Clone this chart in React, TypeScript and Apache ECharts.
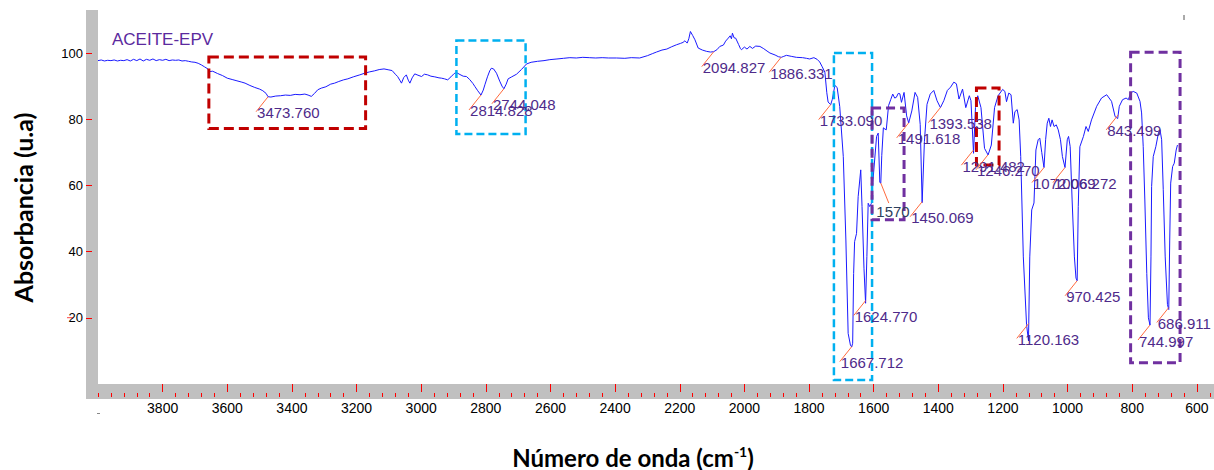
import { useEffect, useRef } from "react";
import * as echarts from "echarts";

// ---------- spectrum (wavenumber cm-1, absorbance u.a) ----------
const spectrumHigh: [number, number][] = [
  [4000, 97.7], [3990, 97.9], [3980, 97.6], [3970, 97.8], [3960, 97.7], [3950, 97.9], [3940, 97.6],
  [3930, 97.8], [3920, 97.7], [3910, 98.0], [3900, 97.6], [3890, 98.1], [3880, 97.7], [3870, 98.2],
  [3860, 97.6], [3850, 98.1], [3840, 97.8], [3830, 98.2], [3820, 97.7], [3810, 98.0], [3800, 97.8],
  [3790, 98.1], [3780, 97.7], [3770, 97.9], [3760, 97.8], [3750, 97.9], [3740, 97.6], [3730, 97.7],
  [3720, 97.5], [3710, 97.3], [3700, 97.2], [3690, 96.9], [3680, 96.4], [3670, 95.8], [3660, 95.2],
  [3655, 94.4], [3645, 94.5], [3630, 93.8], [3615, 93.2], [3600, 92.4], [3585, 92.0], [3570, 91.6],
  [3555, 91.2], [3545, 90.9], [3530, 90.2], [3515, 89.6], [3500, 89.1], [3490, 88.6], [3480, 87.8],
  [3474, 86.8], [3465, 86.7], [3450, 87.0], [3435, 87.1], [3420, 87.3], [3405, 87.2], [3390, 87.5],
  [3375, 87.4], [3360, 87.6], [3350, 87.3], [3340, 86.9], [3330, 87.8], [3320, 88.9], [3309, 89.4],
  [3295, 89.8], [3280, 90.6], [3268, 90.9], [3255, 91.4], [3240, 91.9], [3227, 92.2], [3210, 92.8],
  [3190, 93.4], [3175, 93.9], [3160, 94.3], [3145, 94.6], [3130, 95.0], [3115, 95.2], [3100, 94.9],
  [3090, 94.7], [3080, 93.6], [3073, 92.9], [3065, 91.6], [3061, 90.9], [3054, 92.6], [3046, 93.4],
  [3040, 91.8], [3035, 90.9], [3028, 92.5], [3020, 93.7], [3010, 93.3], [2999, 92.9], [2990, 93.6],
  [2980, 93.4], [2970, 93.0], [2958, 92.8], [2945, 92.5], [2937, 92.4], [2928, 92.2], [2918, 91.9],
  [2908, 92.8], [2898, 93.8], [2891, 94.1], [2880, 93.5], [2870, 93.0], [2860, 92.9], [2850, 92.0],
  [2840, 90.8], [2834, 89.9], [2825, 88.6], [2815, 87.3], [2808, 88.8], [2803, 90.4], [2795, 92.8],
  [2788, 94.6], [2783, 95.4], [2776, 95.2], [2767, 93.9], [2757, 91.5], [2750, 90.0], [2744, 89.2],
  [2737, 90.6], [2731, 92.2], [2720, 92.8], [2705, 93.6], [2690, 95.0], [2674, 96.7], [2660, 97.2],
  [2640, 97.5], [2620, 97.7],
];

const spectrumMid: [number, number][] = [
  [2602, 98.0], [2580, 98.2], [2560, 98.4], [2540, 98.6], [2520, 98.5], [2500, 98.7], [2480, 98.6],
  [2460, 98.5], [2440, 98.6], [2420, 98.5], [2396, 98.5], [2370, 98.4], [2350, 98.6], [2324, 98.5],
  [2300, 99.2], [2285, 99.8], [2272, 100.3], [2255, 100.9], [2240, 101.2], [2225, 101.9], [2210, 102.5],
  [2198, 102.9], [2190, 103.2], [2184, 103.7], [2177, 103.0], [2172, 104.3], [2167, 106.5], [2160, 105.3],
  [2153, 104.0], [2143, 101.5], [2130, 100.9], [2117, 100.5], [2105, 100.3], [2095, 100.4], [2085, 101.0],
  [2076, 102.0], [2065, 102.4], [2058, 103.6], [2050, 104.5], [2044, 105.2], [2040, 104.3], [2037, 106.0],
  [2032, 104.6], [2027, 104.5], [2018, 102.6], [2012, 101.3], [2009, 101.0], [2000, 101.8], [1992, 101.2],
  [1983, 102.0], [1975, 101.4], [1965, 102.1], [1952, 102.0], [1940, 101.3], [1930, 100.6], [1921, 100.0],
  [1905, 99.4], [1895, 98.9], [1886, 98.7], [1878, 99.0], [1870, 99.3], [1855, 99.0], [1839, 98.7],
  [1820, 98.6], [1808, 98.4], [1798, 98.2], [1785, 98.6], [1775, 98.1], [1767, 97.3],
];

const spectrumFingerprint: [number, number][] = [
  [1760, 96.0], [1751, 94.2], [1745, 88.0], [1741, 85.2], [1733, 84.4], [1728, 86.0], [1720, 90.2],
  [1713, 89.6], [1705, 83.8], [1694, 68.7], [1686, 43.5], [1679, 15.3], [1672, 11.8], [1668, 11.2],
  [1665, 12.3], [1662, 33.4], [1659, 43.0], [1653, 45.5], [1648, 56.6], [1640, 64.7], [1636, 53.6],
  [1630, 35.0], [1625, 24.4], [1621, 38.5], [1617, 54.6], [1612, 53.6], [1607, 54.6], [1602, 61.7],
  [1591, 74.8], [1586, 75.8], [1581, 60.9], [1578, 60.7], [1575, 69.0], [1570, 77.4], [1565, 77.0],
  [1561, 76.8], [1554, 84.1], [1547, 86.0], [1541, 87.6], [1535, 86.4], [1530, 86.6], [1524, 87.8],
  [1519, 87.7], [1514, 85.1], [1506, 88.1], [1498, 81.0], [1491.6, 78.9], [1482, 82.5], [1472, 88.1],
  [1464, 86.6], [1456, 78.4], [1450, 54.8], [1443, 73.3], [1435, 84.5], [1425, 87.6], [1414, 88.7],
  [1404, 85.6], [1393.5, 83.5], [1383, 85.6], [1372, 88.7], [1362, 89.7], [1352, 91.2], [1344, 90.7],
  [1336, 86.1], [1325, 89.1], [1315, 83.5], [1304, 87.1], [1299, 85.6], [1291, 69.7], [1285, 83.5],
  [1278, 87.1], [1268, 83.5], [1257, 71.2], [1246, 69.2], [1236, 72.2], [1226, 83.5], [1215, 87.1],
  [1201, 89.0], [1194, 88.4], [1189, 85.3], [1182, 87.9], [1175, 87.4], [1168, 78.8], [1163, 82.3],
  [1156, 82.9], [1150, 79.8], [1145, 68.7], [1137, 38.4], [1127, 18.0], [1121, 13.0], [1117, 38.4],
  [1111, 52.6], [1104, 54.7], [1098, 70.7], [1091, 73.8], [1086, 74.3], [1080, 70.0], [1073, 65.4],
  [1068, 73.8], [1063, 78.8], [1058, 80.3], [1053, 77.8], [1048, 79.8], [1042, 77.8], [1035, 78.3],
  [1029, 76.8], [1022, 73.8], [1016, 68.7], [1008, 65.4], [1001, 73.8], [997, 74.8], [992, 71.7],
  [986, 55.6], [979, 38.4], [974, 32.0], [970.4, 31.2], [967, 53.6], [962, 71.7], [951, 74.8],
  [943, 77.8], [936, 76.3], [926, 79.8], [910, 83.9], [895, 86.4], [879, 87.4], [864, 85.4],
  [853, 80.8], [845, 80.2], [840, 83.9], [830, 85.9], [819, 86.4], [812, 85.9], [805, 87.9],
  [797, 88.4], [786, 87.9], [776, 85.4], [771, 81.9], [766, 71.7], [761, 55.6], [755, 33.4],
  [750, 20.0], [745, 17.8], [742, 38.4], [740, 59.7], [735, 68.7], [727, 71.7], [719, 75.8],
  [714, 76.8], [709, 73.8], [704, 58.7], [698, 38.4], [691, 24.0], [687, 22.5], [684, 43.5],
  [681, 60.7], [675, 65.7], [670, 66.7], [664, 70.7], [660, 72.2],
];

const spectrum: [number, number][] = [...spectrumHigh, ...spectrumMid, ...spectrumFingerprint];

// ---------- peak annotations ----------
const peakWavenumbers = [
  3473.76, 2814.828, 2744.048, 2094.827, 1886.331, 1733.09, 1667.712, 1624.77, 1578, 1491.618,
  1450.069, 1393.538, 1291.482, 1246.27, 1120.163, 1073, 1008, 970.425, 843.499, 744.997, 686.911,
];
const peakLabels = [
  "3473.760", "2814.828", "2744.048", "2094.827", "1886.331", "1733.090", "1667.712", "1624.770",
  "1570", "1491.618", "1450.069", "1393.538", "1291.482", "1246.270", "1120.163", "1072.069",
  "1006.272", "970.425", "843.499", "744.997", "686.911",
];

// ---------- highlighted regions (wavenumber range, absorbance range) ----------
const redBoxes = [
  [3657, 3172, 77.2, 98.8],
  [1282, 1212, 66.2, 89.4],
];
const cyanBoxes = [
  [2891, 2677, 75.5, 103.8],
  [1723, 1605, 1.2, 100.0],
];
const purpleBoxes = [
  [1605, 1506, 49.6, 83.4],
  [805, 652, 6.4, 100.2],
];

// ---------- axis ticks ----------
const xTickLabels = [3800, 3600, 3400, 3200, 3000, 2800, 2600, 2400, 2200, 2000, 1800, 1600, 1400, 1200, 1000, 800, 600];
const xMinorTicks: number[] = [];
for (let w = 4000; w >= 560; w -= 40) if (w % 200 !== 0 || w === 4000) xMinorTicks.push(w);
const yTickLabels = [20, 40, 60, 80, 100];

const X_MIN = 547;
const X_MAX = 4000;
const Y_MAX = 113;

function valueAt(w: number): number {
  for (let i = 0; i < spectrum.length - 1; i++) {
    const [w1, v1] = spectrum[i];
    const [w2, v2] = spectrum[i + 1];
    if (w <= w1 && w >= w2) {
      const t = w1 === w2 ? 0 : (w1 - w) / (w1 - w2);
      return v1 + (v2 - v1) * t;
    }
  }
  return spectrum[spectrum.length - 1][1];
}

const LABEL_FONT = '15px "Liberation Sans", Arial, sans-serif';

export default function App() {
  const ref = useRef<HTMLDivElement>(null);

  useEffect(() => {
    if (!ref.current) return;
    const chart = echarts.init(ref.current, undefined, { renderer: "svg" });

    const boxItem = (b: number[], color: string, width: number, dash: number[]) => [
      {
        coord: [b[0], b[3]],
        itemStyle: { color: "rgba(0,0,0,0)", borderColor: color, borderWidth: width, borderType: dash },
      },
      { coord: [b[1], b[2]] },
    ];

    const option: any = {
      animation: false,
      backgroundColor: "#ffffff",
      grid: { left: 98, right: 0, top: 10, bottom: 86 },
      xAxis: [
        {
          type: "value",
          min: X_MIN,
          max: X_MAX,
          inverse: true,
          position: "bottom",
          offset: 5,
          z: 5,
          axisLine: { show: false },
          axisTick: {
            show: true,
            length: 8,
            customValues: xTickLabels,
            lineStyle: { color: "#ff0000", width: 1 },
          },
          axisLabel: {
            customValues: xTickLabels,
            formatter: (v: number) => String(v),
            fontSize: 14,
            color: "#000",
            margin: 12,
            fontFamily: '"Liberation Sans", Arial, sans-serif',
          },
          splitLine: { show: false },
        },
        {
          type: "value",
          min: X_MIN,
          max: X_MAX,
          inverse: true,
          position: "bottom",
          offset: 9,
          z: 5,
          axisLine: { show: false },
          axisTick: {
            show: true,
            length: 4,
            customValues: xMinorTicks,
            lineStyle: { color: "#ff0000", width: 1 },
          },
          axisLabel: { show: false },
          splitLine: { show: false },
        },
      ],
      yAxis: {
        type: "value",
        min: 0,
        max: Y_MAX,
        offset: 6,
        z: 5,
        axisLine: { show: false },
        axisTick: {
          show: true,
          length: 6,
          customValues: yTickLabels,
          lineStyle: { color: "#ff0000", width: 1 },
        },
        axisLabel: {
          customValues: yTickLabels,
          formatter: (v: number) => String(v),
          fontSize: 13,
          color: "#000",
          margin: 9,
          fontFamily: '"Liberation Sans", Arial, sans-serif',
        },
        splitLine: { show: false },
      },
      graphic: {
        elements: [
          { type: "rect", z: 0, shape: { x: 86, y: 10, width: 12, height: 389 }, style: { fill: "#c0c0c0" } },
          { type: "rect", z: 0, shape: { x: 86, y: 384, width: 1128, height: 15 }, style: { fill: "#c0c0c0" } },
          {
            type: "line",
            z: 1,
            shape: { x1: 67, y1: 317.7, x2: 73, y2: 317.7 },
            style: { stroke: "#ff4444", lineWidth: 1 },
          },
          {
            type: "line",
            z: 1,
            shape: { x1: 1184, y1: 15, x2: 1184, y2: 20 },
            style: { stroke: "#555", lineWidth: 1 },
          },
          {
            type: "line",
            z: 1,
            shape: { x1: 97, y1: 413.5, x2: 100, y2: 413.5 },
            style: { stroke: "#888", lineWidth: 1 },
          },
          {
            type: "text",
            z: 10,
            x: 112,
            y: 31,
            style: {
              text: "ACEITE-EPV",
              fill: "#5b2a9e",
              font: '17px "Liberation Sans", Arial, sans-serif',
            },
          },
          {
            type: "text",
            z: 10,
            x: 23,
            y: 207.5,
            rotation: Math.PI / 2,
            style: {
              text: "Absorbancia (u.a)",
              fill: "#000",
              font: 'bold 25px Lato, "Open Sans", sans-serif',
              align: "center",
              verticalAlign: "middle",
            },
          },
          {
            type: "text",
            z: 10,
            x: 633,
            y: 457,
            style: {
              text: "{a|Número de onda (cm}{s|-1}{a|)}",
              align: "center",
              verticalAlign: "middle",
              rich: {
                a: { fontSize: 24, fontWeight: "bold", fontFamily: "Lato", fill: "#000", lineHeight: 25 },
                s: {
                  fontSize: 14,
                  fontWeight: "bold",
                  fontFamily: "Lato",
                  fill: "#000",
                  lineHeight: 25,
                  verticalAlign: "top",
                  padding: [0, 0, 6, 0],
                },
              },
            },
          },
        ],
      },
      series: [
        {
          type: "line",
          data: spectrum,
          symbol: "none",
          showSymbol: false,
          z: 3,
          lineStyle: { color: "#1a1aff", width: 1 },
          markArea: {
            silent: true,
            z: 4,
            data: [
              ...redBoxes.map((b) => boxItem(b, "#c00000", 3, [10, 5])),
              ...cyanBoxes.map((b) => boxItem(b, "#00b0f0", 2.5, [8, 4])),
              ...purpleBoxes.map((b) => boxItem(b, "#7030a0", 3, [9, 5])),
            ],
          },
        },
        {
          type: "custom",
          silent: true,
          clip: false,
          z: 6,
          encode: { x: 0, y: 1 },
          data: peakWavenumbers.map((w, i) => [w, valueAt(w), i]),
          renderItem: (params: any, api: any) => {
            const p = api.coord([api.value(0), api.value(1)]);
            const i = api.value(2);
            const special = peakLabels[i] === "1570";
            const dx = special ? 8 : -12;
            const dy = special ? 20 : 15;
            const tx = special ? -4.5 : dx + 1;
            const ty = special ? 28 : dy + 1;
            return {
              type: "group",
              children: [
                {
                  type: "line",
                  shape: { x1: p[0], y1: p[1], x2: p[0] + dx, y2: p[1] + dy },
                  style: { stroke: "#ff6a3d", lineWidth: 1 },
                },
                {
                  type: "text",
                  x: p[0] + tx,
                  y: p[1] + ty,
                  style: {
                    text: peakLabels[i],
                    fill: special ? "#2e3f5c" : "#4e2a8a",
                    font: LABEL_FONT,
                    align: "left",
                    verticalAlign: "middle",
                  },
                },
              ],
            };
          },
        },
      ],
    };

    chart.setOption(option);
    return () => chart.dispose();
  }, []);

  return (
    <div
      ref={ref}
      style={{ position: "fixed", left: 0, top: 0, width: 1214, height: 470, background: "#fff" }}
    />
  );
}
